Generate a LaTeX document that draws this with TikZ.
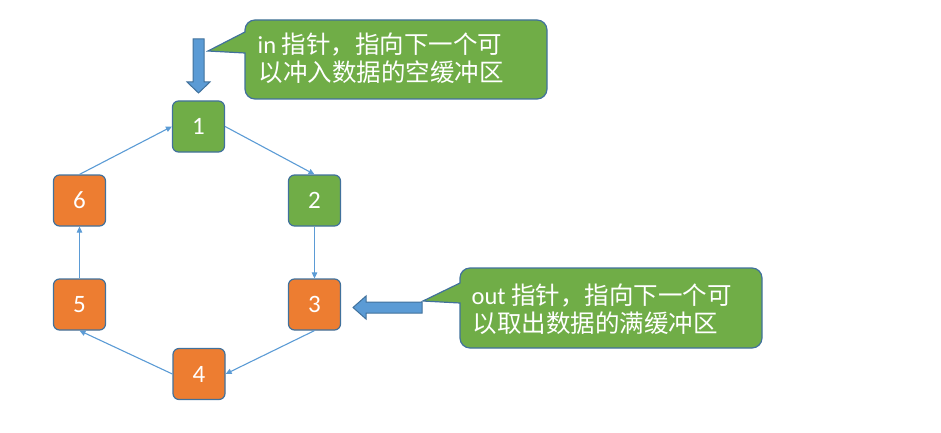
\documentclass[tikz,border=0pt]{standalone}
\usepackage{fontspec}
\setmainfont{Carlito}
\newfontfamily\cjk{Noto Sans CJK SC}
\usetikzlibrary{arrows.meta}
\definecolor{grn}{HTML}{70AD47}
\definecolor{org}{HTML}{ED7D31}
\definecolor{bdr}{HTML}{41719C}
\definecolor{lnk}{HTML}{5B9BD5}
\begin{document}
\begin{tikzpicture}[x=1pt,y=-1pt,
 box/.style={draw=bdr, line width=1.2pt, rounded corners=6pt, minimum width=52pt, minimum height=51pt, inner sep=0pt, text=white, font=\fontsize{25}{29}\selectfont},
 gbox/.style={box, fill=grn},
 obox/.style={box, fill=org},
 link/.style={draw=lnk, line width=1.1pt, -{Triangle[length=6pt,width=5.5pt]}},
 callout/.style={fill=grn, draw=bdr, line width=1.2pt},
 blockarrow/.style={fill=lnk, draw=bdr, line width=1pt},
 ctext/.style={anchor=base west, inner sep=0pt, text=white, font=\fontsize{24.5}{28}\selectfont}]
\useasboundingbox (0,0) rectangle (941,433);

% nodes
\node[gbox] (n1) at (198.5,126.5) {1};
\node[gbox] (n2) at (314.5,200.5) {2};
\node[obox] (n3) at (314.5,304.5) {3};
\node[obox] (n4) at (199,374) {4};
\node[obox] (n5) at (79.5,304.5) {5};
\node[obox] (n6) at (79.5,200.5) {6};

% ring connectors
\draw[link] (n1.east) -- (n2.north);
\draw[link] (n2.south) -- (n3.north);
\draw[link] (n3.south) -- (n4.east);
\draw[link] (n4.west) -- (n5.south);
\draw[link] (n5.north) -- (n6.south);
\draw[link] (n6.north) -- (n1.west);

% block arrows
\draw[blockarrow] (193,39) -- (204,39) -- (204,82) -- (210,82) -- (198.5,93) -- (187,82) -- (193,82) -- cycle;
\draw[blockarrow] (422,302) -- (366,302) -- (366,296) -- (353,307.5) -- (366,319) -- (366,313) -- (422,313) -- cycle;

% callout top
\draw[callout] (208,51) -- (245,32) [rounded corners=10pt] -- (245,20) -- (547,20) -- (547,99) -- (245,99) [sharp corners] -- (245,53) -- cycle;
\node[ctext] (t1) at (257.5,54) {in {\cjk 指针，指向下一个可}};
\node[ctext] (t2) at (258.5,82) {\cjk 以冲入数据的空缓冲区};

% callout right
\draw[callout] (423,301) -- (460,283) [rounded corners=10pt] -- (460,268) -- (762,268) -- (762,348) -- (460,348) [sharp corners] -- (460,303) -- cycle;
\node[ctext] (t3) at (471.5,304) {out {\cjk 指针，指向下一个可}};
\node[ctext] (t4) at (472.5,332) {\cjk 以取出数据的满缓冲区};
\end{tikzpicture}
\end{document}
